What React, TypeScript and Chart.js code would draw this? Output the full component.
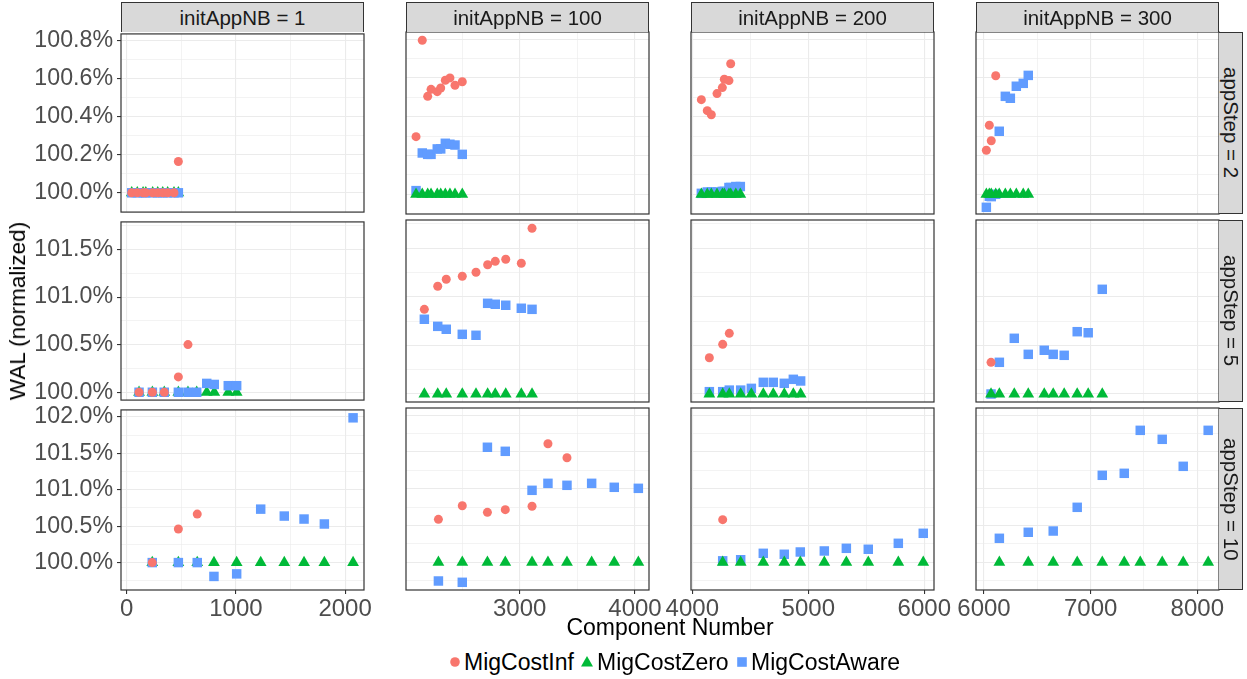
import React, { useEffect, useRef } from "react";
import { Chart, registerables } from "chart.js";
Chart.register(...registerables);

// ---- facets & series ----
const initAppNB = [1, 100, 200, 300];
const appStep = [2, 5, 10];
const seriesNames = ["MigCostInf", "MigCostZero", "MigCostAware"];
const seriesColors = ["#F8766D", "#00BA38", "#619CFF"];

// ---- appStep = 2 ----
const comp_s2_n1 = [46, 97, 150, 175, 238, 284, 330, 375, 433, 473];
const inf_s2_n1 = [100, 100, 100, 100, 100, 100, 100, 100, 100, 100.165];
const zero_s2_n1 = [100, 100, 100, 100, 100, 100, 100, 100, 100, 100];
const aware_s2_n1 = [100, 100, 100, 100, 100, 100, 100, 100, 100, 100];

const comp_s2_n100 = [2101, 2155, 2202, 2231, 2285, 2315, 2355, 2395, 2439, 2502];
const inf_s2_n100 = [100.297, 100.794, 100.505, 100.541, 100.529, 100.548, 100.588, 100.6, 100.562, 100.58];
const zero_s2_n100 = [100, 100, 100, 100, 100, 100, 100, 100, 100, 100];
const aware_s2_n100 = [100.019, 100.213, 100.206, 100.206, 100.234, 100.234, 100.263, 100.258, 100.254, 100.206];

const comp_s2_n200 = [4078, 4129, 4164, 4213, 4259, 4276, 4316, 4331, 4375, 4414];
const inf_s2_n200 = [100.488, 100.431, 100.41, 100.519, 100.55, 100.593, 100.586, 100.673, null, null];
const zero_s2_n200 = [100, 100, 100, 100, 100, 100, 100, 100, 100, 100];
const aware_s2_n200 = [100.005, 100.012, 100.012, 100.012, 100.015, 100.015, 100.035, 100.035, 100.04, 100.04];

const comp_s2_n300 = [6022, 6050, 6068, 6110, 6143, 6200, 6247, 6303, 6368, 6415];
const inf_s2_n300 = [100.227, 100.356, 100.276, 100.611, null, null, null, null, null, null];
const zero_s2_n300 = [100, 100, 100, 100, 100, 100, 100, 100, 100, 100];
const aware_s2_n300 = [99.933, 99.99, 99.988, 100.0, 100.325, 100.505, 100.495, 100.557, 100.572, 100.613];

// ---- appStep = 5 ----
const comp_s5_n1 = [113, 235, 344, 473, 561, 641, 733, 802, 930, 1007];
const inf_s5_n1 = [100, 100, 100, 100.161, 100.501, null, null, null, null, null];
const zero_s5_n1 = [100, 100, 100, 100, 100, 100, 100, 100, 100, 100];
const aware_s5_n1 = [100, 100, 100, 100, 100, 100, 100.093, 100.082, 100.069, 100.069];

const comp_s5_n100 = [2173, 2289, 2363, 2502, 2621, 2722, 2788, 2879, 3014, 3107];
const inf_s5_n100 = [100.871, 101.108, 101.18, 101.211, 101.252, 101.33, 101.365, 101.386, 101.345, 101.705];
const zero_s5_n100 = [100, 100, 100, 100, 100, 100, 100, 100, 100, 100];
const aware_s5_n100 = [100.769, 100.696, 100.666, 100.614, 100.604, 100.933, 100.923, 100.913, 100.882, 100.871];

const comp_s5_n200 = [4147, 4262, 4319, 4417, 4509, 4612, 4698, 4793, 4871, 4934];
const inf_s5_n200 = [100.373, 100.511, 100.624, null, null, null, null, null, null, null];
const zero_s5_n200 = [100, 100, 100, 100, 100, 100, 100, 100, 100, 100];
const aware_s5_n200 = [100.024, 100.024, 100.04, 100.04, 100.058, 100.12, 100.12, 100.11, 100.151, 100.134];

const comp_s5_n300 = [6066, 6144, 6284, 6415, 6565, 6649, 6752, 6874, 6977, 7109];
const inf_s5_n300 = [100.326, null, null, null, null, null, null, null, null, null];
const zero_s5_n300 = [100, 100, 100, 100, 100, 100, 100, 100, 100, 100];
const aware_s5_n300 = [100.0, 100.326, 100.573, 100.408, 100.45, 100.408, 100.398, 100.641, 100.63, 101.077];

// ---- appStep = 10 ----
const comp_s10_n1 = [234, 473, 646, 799, 1007, 1227, 1443, 1624, 1810, 2073];
const inf_s10_n1 = [100, 100.462, 100.666, null, null, null, null, null, null, null];
const zero_s10_n1 = [100, 100, 100, 100, 100, 100, 100, 100, 100, 100];
const aware_s10_n1 = [100, 100, 100, 99.81, 99.845, 100.734, 100.639, 100.598, 100.53, 101.988];

const comp_s10_n100 = [2295, 2502, 2720, 2875, 3107, 3245, 3410, 3624, 3820, 4029];
const inf_s10_n100 = [100.584, 100.769, 100.679, 100.715, 100.761, 101.611, 101.421, null, null, null];
const zero_s10_n100 = [100, 100, 100, 100, 100, 100, 100, 100, 100, 100];
const aware_s10_n100 = [99.746, 99.728, 101.563, 101.508, 100.978, 101.073, 101.046, 101.073, 101.019, 101.005];

const comp_s10_n200 = [4262, 4417, 4612, 4793, 4931, 5138, 5328, 5517, 5776, 5991];
const inf_s10_n200 = [100.579, null, null, null, null, null, null, null, null, null];
const zero_s10_n200 = [100, 100, 100, 100, 100, 100, 100, 100, 100, 100];
const aware_s10_n200 = [100.02, 100.035, 100.122, 100.109, 100.14, 100.154, 100.19, 100.177, 100.258, 100.394];

const comp_s10_n300 = [6144, 6415, 6649, 6874, 7109, 7315, 7465, 7671, 7868, 8102];
const inf_s10_n300 = [null, null, null, null, null, null, null, null, null, null];
const zero_s10_n300 = [100, 100, 100, 100, 100, 100, 100, 100, 100, 100];
const aware_s10_n300 = [100.326, 100.408, 100.425, 100.747, 101.182, 101.209, 101.793, 101.671, 101.304, 101.793];

// ---- axis limits & ticks ----
const xMinByCol = [-52.2, 2013.9, 3988.8, 5925];
const xMaxByCol = [2173, 4121.4, 6083.6, 8203.4];
const yMinByRow = [99.8985, 99.9177, 99.6236];
const yMaxByRow = [100.8366, 101.79, 102.0965];
const xMajorTicks = [[0, 1000, 2000], [3000, 4000], [4000, 5000, 6000], [6000, 7000, 8000]];
const xMinorTicks = [[500, 1500], [2500, 3500], [4500, 5500], [6500, 7500]];
const yMajorTicks = [[100, 100.2, 100.4, 100.6, 100.8], [100, 100.5, 101, 101.5], [100, 100.5, 101, 101.5, 102]];
const yMinorTicks = [[100.1, 100.3, 100.5, 100.7], [100.25, 100.75, 101.25, 101.75], [99.75, 100.25, 100.75, 101.25, 101.75]];

const PANELS = [
  [
    { comp: comp_s2_n1, inf: inf_s2_n1, zero: zero_s2_n1, aware: aware_s2_n1 },
    { comp: comp_s2_n100, inf: inf_s2_n100, zero: zero_s2_n100, aware: aware_s2_n100 },
    { comp: comp_s2_n200, inf: inf_s2_n200, zero: zero_s2_n200, aware: aware_s2_n200 },
    { comp: comp_s2_n300, inf: inf_s2_n300, zero: zero_s2_n300, aware: aware_s2_n300 },
  ],
  [
    { comp: comp_s5_n1, inf: inf_s5_n1, zero: zero_s5_n1, aware: aware_s5_n1 },
    { comp: comp_s5_n100, inf: inf_s5_n100, zero: zero_s5_n100, aware: aware_s5_n100 },
    { comp: comp_s5_n200, inf: inf_s5_n200, zero: zero_s5_n200, aware: aware_s5_n200 },
    { comp: comp_s5_n300, inf: inf_s5_n300, zero: zero_s5_n300, aware: aware_s5_n300 },
  ],
  [
    { comp: comp_s10_n1, inf: inf_s10_n1, zero: zero_s10_n1, aware: aware_s10_n1 },
    { comp: comp_s10_n100, inf: inf_s10_n100, zero: zero_s10_n100, aware: aware_s10_n100 },
    { comp: comp_s10_n200, inf: inf_s10_n200, zero: zero_s10_n200, aware: aware_s10_n200 },
    { comp: comp_s10_n300, inf: inf_s10_n300, zero: zero_s10_n300, aware: aware_s10_n300 },
  ],
];

// ---- layout ----
const FONT = "'Liberation Sans', Arial, Helvetica, sans-serif";
const PW = 243;
const PL = [121, 406, 691, 976];
const PT = [32, 220, 408];
const PH = [182, 182, 182];
const STRIP_RIGHT_W = 24;

const near = (arr: number[], v: number) => arr.some((m) => Math.abs(m - v) < 1e-6);

const panelBorder = {
  id: "panelBorder",
  afterDraw(chart: any) {
    const { ctx, chartArea: a } = chart;
    ctx.save();
    ctx.strokeStyle = "#333333";
    ctx.lineWidth = 1.2;
    ctx.strokeRect(a.left, a.top, a.right - a.left, a.bottom - a.top);
    ctx.restore();
  },
};

function Panel({ r, c }: { r: number; c: number }) {
  const ref = useRef<HTMLCanvasElement>(null);
  const mL = c === 0 ? PL[0] : 45;
  const mR = 45;
  const mT = 16;
  const mB = r === 2 ? 44 : 16;
  const cw = PW + mL + mR;
  const ch = PH[r] + mT + mB;

  useEffect(() => {
    const p = PANELS[r][c];
    const pts = (ys: (number | null)[]) =>
      p.comp.map((x, i) => ({ x, y: ys[i] })).filter((d) => d.y !== null);
    const majX = xMajorTicks[c];
    const majY = yMajorTicks[r];
    const xt = [...majX, ...xMinorTicks[c]].sort((a, b) => a - b);
    const yt = [...majY, ...yMinorTicks[r]].sort((a, b) => a - b);
    const blueOnTop = c === 0;
    const chart = new Chart(ref.current as HTMLCanvasElement, {
      type: "scatter",
      data: {
        datasets: [
          {
            label: seriesNames[0],
            data: pts(p.inf),
            pointStyle: "circle",
            pointRadius: 4.5,
            pointBackgroundColor: seriesColors[0],
            backgroundColor: seriesColors[0],
            pointBorderWidth: 0,
            borderWidth: 0,
            order: 0,
          },
          {
            label: seriesNames[1],
            data: pts(p.zero),
            pointStyle: "triangle",
            pointRadius: 6.8,
            pointBackgroundColor: seriesColors[1],
            backgroundColor: seriesColors[1],
            pointBorderWidth: 0,
            borderWidth: 0,
            order: blueOnTop ? 2 : 1,
          },
          {
            label: seriesNames[2],
            data: pts(p.aware),
            pointStyle: "rect",
            pointRadius: 6.7,
            pointBackgroundColor: seriesColors[2],
            backgroundColor: seriesColors[2],
            pointBorderWidth: 0,
            borderWidth: 0,
            order: blueOnTop ? 1 : 2,
          },
        ],
      } as any,
      options: {
        responsive: false,
        animation: false,
        events: [],
        layout: { padding: { left: c === 0 ? 0 : mL, right: mR, top: mT, bottom: r === 2 ? 0 : mB } },
        plugins: { legend: { display: false }, tooltip: { enabled: false } },
        scales: {
          x: {
            type: "linear",
            min: xMinByCol[c],
            max: xMaxByCol[c],
            afterBuildTicks: (s: any) => {
              s.ticks = xt.map((v) => ({ value: v }));
            },
            afterFit: (s: any) => {
              s.height = r === 2 ? mB : 0;
            },
            ticks: {
              display: r === 2,
              autoSkip: false,
              maxRotation: 0,
              minRotation: 0,
              padding: 1,
              color: "#4D4D4D",
              font: { family: FONT, size: 24 },
              callback: (v: any) => (near(majX, Number(v)) ? String(v) : ""),
            },
            grid: {
              color: "#EBEBEB",
              lineWidth: (ctx: any) => (ctx.tick && near(majX, ctx.tick.value) ? 1.1 : 0.6),
              drawTicks: r === 2,
              tickLength: 4,
              tickWidth: 1.1,
              tickColor: (ctx: any) => (ctx.tick && near(majX, ctx.tick.value) ? "#333333" : "rgba(0,0,0,0)"),
            },
            border: { display: false },
          },
          y: {
            type: "linear",
            min: yMinByRow[r],
            max: yMaxByRow[r],
            afterBuildTicks: (s: any) => {
              s.ticks = yt.map((v) => ({ value: v }));
            },
            afterFit: (s: any) => {
              s.width = c === 0 ? mL : 0;
            },
            ticks: {
              display: c === 0,
              autoSkip: false,
              padding: 4,
              color: "#4D4D4D",
              font: { family: FONT, size: 23.2 },
              callback: (v: any) => (near(majY, Number(v)) ? Number(v).toFixed(1) + "%" : ""),
            },
            grid: {
              color: "#EBEBEB",
              lineWidth: (ctx: any) => (ctx.tick && near(majY, ctx.tick.value) ? 1.1 : 0.6),
              drawTicks: c === 0,
              tickLength: 4,
              tickWidth: 1.1,
              tickColor: (ctx: any) => (ctx.tick && near(majY, ctx.tick.value) ? "#333333" : "rgba(0,0,0,0)"),
            },
            border: { display: false },
          },
        },
      } as any,
      plugins: [panelBorder],
    });
    return () => chart.destroy();
  }, [r, c]);

  return (
    <canvas
      ref={ref}
      width={cw}
      height={ch}
      style={{ position: "absolute", left: PL[c] - mL, top: PT[r] - mT, width: cw, height: ch }}
    />
  );
}

function LegendMark({ kind, color }: { kind: number; color: string }) {
  return (
    <svg width={16} height={16} style={{ display: "block" }}>
      {kind === 0 && <circle cx={8} cy={8} r={4.8} fill={color} />}
      {kind === 1 && <polygon points="8,2 14,12.4 2,12.4" fill={color} />}
      {kind === 2 && <rect x={3.2} y={3.2} width={9.6} height={9.6} fill={color} />}
    </svg>
  );
}

export default function App() {
  const legendX = [455, 587, 742];
  const legendTextX = [464, 597, 751];
  return (
    <div
      style={{
        position: "absolute",
        left: 0,
        top: 0,
        width: 1247,
        height: 679,
        background: "#FFFFFF",
        overflow: "hidden",
        fontFamily: FONT,
      }}
    >
      {/* panels */}
      {appStep.map((_, r) => initAppNB.map((__, c) => <Panel key={r + "-" + c} r={r} c={c} />))}

      {/* top strips */}
      {initAppNB.map((nb, c) => (
        <div
          key={"ts" + c}
          style={{
            position: "absolute",
            left: PL[c],
            top: 2,
            width: PW,
            height: 30,
            boxSizing: "border-box",
            border: "1.2px solid #333333",
            borderBottom: "none",
            background: "#D9D9D9",
            color: "#1A1A1A",
            fontSize: 20.5,
            lineHeight: "29px",
            textAlign: "center",
            whiteSpace: "nowrap",
          }}
        >
          {"initAppNB = " + nb}
        </div>
      ))}

      {/* right strips */}
      {appStep.map((st, r) => (
        <div
          key={"rs" + r}
          style={{
            position: "absolute",
            left: PL[3] + PW,
            top: PT[r],
            width: STRIP_RIGHT_W,
            height: PH[r],
            boxSizing: "border-box",
            border: "1.2px solid #333333",
            borderLeft: "none",
            background: "#D9D9D9",
            color: "#1A1A1A",
            display: "flex",
            alignItems: "center",
            justifyContent: "center",
          }}
        >
          <span style={{ writingMode: "vertical-rl", fontSize: 20.5, whiteSpace: "nowrap", lineHeight: "22px" }}>
            {"appStep = " + st}
          </span>
        </div>
      ))}

      {/* axis titles */}
      <div
        style={{
          position: "absolute",
          left: 18,
          top: 311,
          transform: "translate(-50%, -50%) rotate(-90deg)",
          fontSize: 22.5,
          color: "#000",
          whiteSpace: "nowrap",
        }}
      >
        WAL (normalized)
      </div>
      <div
        style={{
          position: "absolute",
          left: 670,
          top: 627,
          transform: "translate(-50%, -50%)",
          fontSize: 23,
          color: "#000",
          whiteSpace: "nowrap",
        }}
      >
        Component Number
      </div>

      {/* legend */}
      {seriesNames.map((name, i) => (
        <React.Fragment key={"lg" + i}>
          <div style={{ position: "absolute", left: legendX[i] - 8, top: 662 - 8 }}>
            <LegendMark kind={i} color={seriesColors[i]} />
          </div>
          <div
            style={{
              position: "absolute",
              left: legendTextX[i],
              top: 662,
              transform: "translateY(-50%)",
              fontSize: 23,
              color: "#000",
              whiteSpace: "nowrap",
            }}
          >
            {name}
          </div>
        </React.Fragment>
      ))}
    </div>
  );
}
